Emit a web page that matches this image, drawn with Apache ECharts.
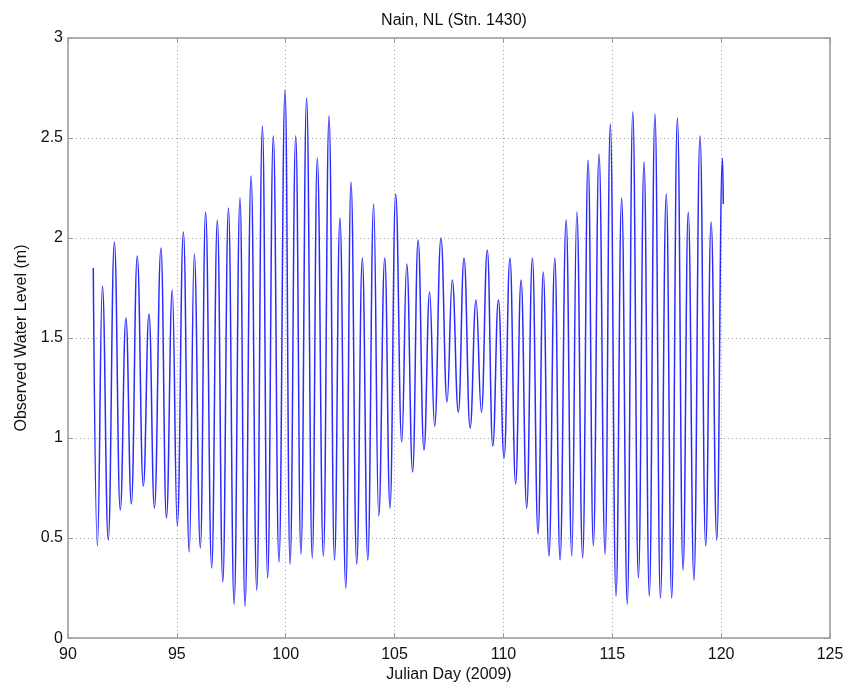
<!DOCTYPE html>
<html>
<head>
<meta charset="utf-8">
<script src="https://cdn.jsdelivr.net/npm/echarts@6/dist/echarts.min.js"></script>
<style>
  html, body { margin: 0; padding: 0; background: #ffffff; }
  #chart { width: 849px; height: 688px; }
</style>
</head>
<body>
<div id="chart"></div>
<script>
// Julian day of each high / low water
const julianDay = [
  91.16, 91.35, 91.58, 91.85, 92.13, 92.40, 92.66, 92.91, 93.18, 93.46,
  93.72, 93.97, 94.27, 94.52, 94.79, 95.02, 95.30, 95.57, 95.80, 96.08,
  96.32, 96.60, 96.86, 97.11, 97.37, 97.63, 97.90, 98.13, 98.41, 98.67,
  98.93, 99.17, 99.43, 99.69, 99.97, 100.20, 100.46, 100.70, 100.96, 101.22,
  101.45, 101.73, 101.99, 102.24, 102.49, 102.76, 103.00, 103.26, 103.52, 103.77,
  104.04, 104.27, 104.55, 104.79, 105.05, 105.33, 105.56, 105.83, 106.08, 106.35,
  106.61, 106.84, 107.13, 107.41, 107.65, 107.93, 108.19, 108.47, 108.74, 108.99,
  109.26, 109.51, 109.77, 110.03, 110.30, 110.56, 110.81, 111.07, 111.33, 111.59,
  111.83, 112.09, 112.36, 112.60, 112.88, 113.14, 113.37, 113.64, 113.89, 114.13,
  114.39, 114.67, 114.91, 115.17, 115.43, 115.69, 115.94, 116.20, 116.46, 116.70,
  116.96, 117.21, 117.48, 117.73, 117.99, 118.25, 118.49, 118.75, 119.03, 119.29,
  119.54, 119.80, 120.06, 120.10
];
// Observed water level (m) at those times
const waterLevel = [
  1.85, 0.46, 1.76, 0.49, 1.98, 0.64, 1.60, 0.67, 1.91, 0.76,
  1.62, 0.65, 1.95, 0.60, 1.74, 0.56, 2.03, 0.43, 1.92, 0.45,
  2.13, 0.35, 2.09, 0.28, 2.15, 0.17, 2.20, 0.16, 2.31, 0.24,
  2.56, 0.30, 2.51, 0.38, 2.74, 0.37, 2.51, 0.42, 2.70, 0.40,
  2.40, 0.41, 2.61, 0.39, 2.10, 0.25, 2.28, 0.37, 1.90, 0.39,
  2.17, 0.61, 1.90, 0.65, 2.22, 0.98, 1.87, 0.83, 1.99, 0.94,
  1.73, 1.06, 2.00, 1.18, 1.79, 1.13, 1.90, 1.05, 1.69, 1.13,
  1.94, 0.96, 1.69, 0.90, 1.90, 0.77, 1.79, 0.65, 1.90, 0.52,
  1.83, 0.41, 1.90, 0.39, 2.09, 0.41, 2.13, 0.40, 2.39, 0.46,
  2.42, 0.42, 2.57, 0.21, 2.20, 0.17, 2.63, 0.30, 2.38, 0.21,
  2.62, 0.20, 2.22, 0.20, 2.60, 0.34, 2.13, 0.29, 2.51, 0.46,
  2.08, 0.49, 2.40, 2.17
];

const xMin = 90, xMax = 125, xStep = 5;
const yMin = 0, yMax = 3, yStep = 0.5;
const titleText = 'Nain, NL (Stn. 1430)';
const xName = 'Julian Day (2009)';
const yName = 'Observed Water Level (m)';

const seriesData = julianDay.map((d, i) => [d, waterLevel[i]]);

const FONT = '"Liberation Sans", Arial, Helvetica, sans-serif';
const axisColor = '#9a9a9a';
const gridLine = { show: true, lineStyle: { color: '#a8a8a8', type: [1, 3], width: 1 } };

const chart = echarts.init(document.getElementById('chart'), null, { renderer: 'canvas' });
chart.setOption({
  animation: false,
  backgroundColor: '#ffffff',
  title: {
    text: titleText,
    left: 449, top: 8, textAlign: 'center',
    textStyle: { fontFamily: FONT, fontSize: 16, fontWeight: 'normal', color: '#111' }
  },
  grid: { left: 68, right: 19, top: 38, bottom: 48 },
  xAxis: [{
    type: 'value', min: xMin, max: xMax, interval: xStep,
    name: xName, nameLocation: 'middle', nameGap: 28,
    nameTextStyle: { fontFamily: FONT, fontSize: 16, color: '#111' },
    axisLine: { show: true, onZero: false, lineStyle: { color: axisColor, width: 1.5 } },
    axisTick: { show: true, inside: true, length: 5, lineStyle: { color: axisColor } },
    axisLabel: { margin: 8, fontFamily: FONT, fontSize: 16, color: '#111' },
    splitLine: gridLine
  }, {
    type: 'value', position: 'top', min: xMin, max: xMax, interval: xStep,
    axisLine: { show: true, onZero: false, lineStyle: { color: axisColor, width: 1.5 } },
    axisTick: { show: true, inside: true, length: 5, lineStyle: { color: axisColor } },
    axisLabel: { show: false }, splitLine: { show: false }
  }],
  yAxis: [{
    type: 'value', min: yMin, max: yMax, interval: yStep,
    name: yName, nameLocation: 'middle', nameGap: 38,
    nameTextStyle: { fontFamily: FONT, fontSize: 16, color: '#111' },
    axisLine: { show: true, onZero: false, lineStyle: { color: axisColor, width: 1.5 } },
    axisTick: { show: true, inside: true, length: 5, lineStyle: { color: axisColor } },
    axisLabel: { margin: 5, fontFamily: FONT, fontSize: 16, color: '#111' },
    splitLine: gridLine
  }, {
    type: 'value', position: 'right', min: yMin, max: yMax, interval: yStep,
    axisLine: { show: true, onZero: false, lineStyle: { color: axisColor, width: 1.5 } },
    axisTick: { show: true, inside: true, length: 5, lineStyle: { color: axisColor } },
    axisLabel: { show: false }, splitLine: { show: false }
  }],
  series: [{
    type: 'line',
    data: seriesData,
    xAxisIndex: 0, yAxisIndex: 0,
    showSymbol: false,
    smooth: 0.45,
    smoothMonotone: 'x',
    lineStyle: { color: '#2b2bff', width: 1.5 },
    itemStyle: { color: '#2b2bff' }
  }]
});
</script>
</body>
</html>
